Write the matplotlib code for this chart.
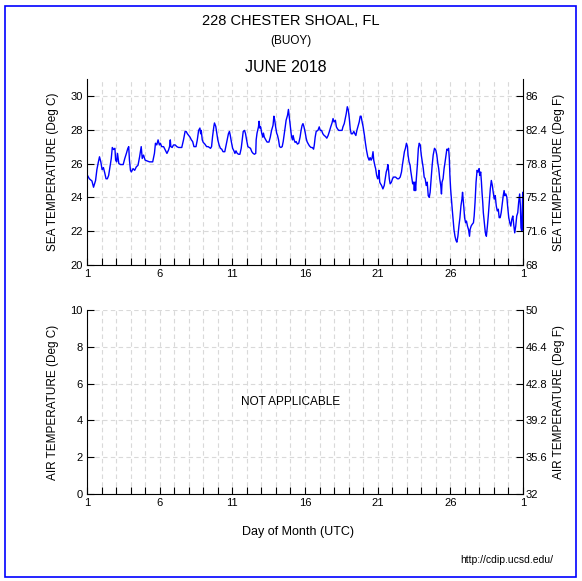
import matplotlib
matplotlib.use("Agg")
import matplotlib.pyplot as plt
from matplotlib.patches import Rectangle

plt.rcParams['font.family'] = ['Liberation Sans', 'DejaVu Sans']

# day of month (UTC, fractional) and sea temperature (deg C)
day = [
    1.00, 1.16, 1.34, 1.45, 1.59, 1.68, 1.77, 1.86, 1.95, 2.04,
    2.13, 2.22, 2.31, 2.40, 2.49, 2.58, 2.67, 2.74, 2.83, 2.92,
    2.97, 3.04, 3.10, 3.19, 3.31, 3.49, 3.60, 3.71, 3.81, 3.87,
    3.92, 3.99, 4.05, 4.17, 4.28, 4.39, 4.51, 4.62, 4.73, 4.80,
    4.89, 5.00, 5.30, 5.52, 5.64, 5.71, 5.80, 5.89, 5.98, 6.05,
    6.14, 6.27, 6.41, 6.50, 6.61, 6.68, 6.73, 6.77, 6.86, 6.95,
    7.07, 7.18, 7.30, 7.52, 7.64, 7.75, 7.82, 7.91, 8.00, 8.09,
    8.18, 8.27, 8.36, 8.50, 8.59, 8.68, 8.77, 8.82, 8.86, 8.93,
    9.00, 9.11, 9.23, 9.34, 9.50, 9.57, 9.64, 9.73, 9.77, 9.86,
    9.91, 10.00, 10.09, 10.18, 10.27, 10.36, 10.48, 10.55, 10.64, 10.73,
    10.80, 10.86, 10.93, 11.02, 11.11, 11.18, 11.25, 11.34, 11.43, 11.52,
    11.61, 11.68, 11.75, 11.84, 11.91, 11.98, 12.07, 12.16, 12.25, 12.34,
    12.43, 12.52, 12.61, 12.64, 12.70, 12.80, 12.84, 12.89, 12.95, 13.02,
    13.09, 13.14, 13.20, 13.30, 13.39, 13.52, 13.61, 13.70, 13.80, 13.86,
    13.91, 13.98, 14.05, 14.11, 14.18, 14.25, 14.34, 14.43, 14.50, 14.57,
    14.64, 14.70, 14.80, 14.86, 14.93, 15.00, 15.07, 15.14, 15.18, 15.25,
    15.32, 15.39, 15.48, 15.57, 15.66, 15.73, 15.80, 15.86, 15.93, 16.02,
    16.08, 16.14, 16.20, 16.30, 16.41, 16.50, 16.59, 16.64, 16.70, 16.77,
    16.89, 16.98, 17.05, 17.14, 17.23, 17.32, 17.41, 17.50, 17.59, 17.68,
    17.77, 17.86, 17.93, 18.00, 18.09, 18.16, 18.23, 18.32, 18.55, 18.61,
    18.70, 18.77, 18.84, 18.91, 18.98, 19.05, 19.11, 19.18, 19.27, 19.36,
    19.43, 19.50, 19.57, 19.64, 19.73, 19.80, 19.86, 19.93, 20.00, 20.09,
    20.16, 20.23, 20.32, 20.41, 20.48, 20.55, 20.61, 20.68, 20.73, 20.80,
    20.86, 20.93, 21.00, 21.05, 21.09, 21.14, 21.20, 21.27, 21.36, 21.45,
    21.52, 21.59, 21.66, 21.70, 21.75, 21.80, 21.86, 21.95, 22.02, 22.09,
    22.23, 22.36, 22.45, 22.55, 22.64, 22.70, 22.77, 22.84, 22.91, 22.98,
    23.05, 23.09, 23.16, 23.23, 23.27, 23.34, 23.41, 23.48, 23.52, 23.57,
    23.61, 23.66, 23.73, 23.80, 23.86, 23.93, 24.00, 24.07, 24.14, 24.20,
    24.27, 24.34, 24.41, 24.48, 24.55, 24.61, 24.68, 24.75, 24.82, 24.91,
    25.00, 25.07, 25.14, 25.20, 25.27, 25.34, 25.39, 25.43, 25.50, 25.57,
    25.64, 25.70, 25.76, 25.82, 25.88, 25.93, 25.97, 26.02, 26.08, 26.13,
    26.18, 26.25, 26.32, 26.39, 26.45, 26.52, 26.59, 26.66, 26.73, 26.80,
    26.84, 26.89, 26.93, 26.98, 27.05, 27.11, 27.18, 27.25, 27.32, 27.36,
    27.43, 27.50, 27.59, 27.64, 27.70, 27.77, 27.84, 27.91, 27.98, 28.02,
    28.09, 28.14, 28.18, 28.23, 28.27, 28.34, 28.41, 28.48, 28.55, 28.61,
    28.68, 28.75, 28.82, 28.89, 28.95, 29.02, 29.09, 29.16, 29.23, 29.30,
    29.36, 29.43, 29.50, 29.57, 29.64, 29.70, 29.75, 29.82, 29.89, 29.95,
    30.02, 30.09, 30.16, 30.23, 30.30, 30.36, 30.43, 30.50, 30.57, 30.64,
    30.70, 30.77, 30.82, 30.86, 30.91, 30.95, 30.98, 31.00,
]
sea_c = [
    25.35, 25.10, 24.97, 24.60, 25.00, 25.64, 26.04, 26.40, 26.10, 25.64,
    25.76, 25.45, 25.10, 25.10, 25.30, 25.80, 26.30, 26.95, 26.83, 26.90,
    26.20, 26.10, 26.60, 26.00, 25.94, 25.94, 26.30, 26.60, 26.90, 27.00,
    26.20, 25.60, 25.50, 25.70, 25.60, 25.80, 25.90, 26.40, 27.00, 26.30,
    26.50, 26.20, 26.10, 26.10, 26.60, 27.20, 27.10, 27.40, 27.10, 27.20,
    27.00, 27.00, 26.75, 26.60, 26.80, 27.00, 27.40, 27.00, 26.95, 27.10,
    27.10, 27.00, 26.95, 26.95, 27.40, 27.90, 27.90, 27.76, 27.66, 27.56,
    27.40, 27.30, 27.00, 27.00, 27.40, 27.96, 28.10, 27.76, 27.96, 27.40,
    27.25, 27.15, 27.00, 27.00, 26.90, 27.00, 27.60, 28.20, 28.40, 28.20,
    27.90, 27.40, 27.10, 26.90, 26.85, 26.70, 26.70, 27.00, 27.40, 27.76,
    27.90, 27.66, 27.30, 26.90, 26.75, 26.60, 26.75, 26.60, 26.55, 26.55,
    26.90, 27.40, 27.90, 27.96, 27.76, 27.40, 27.00, 26.95, 26.90, 26.70,
    26.60, 26.55, 26.60, 27.40, 27.80, 28.17, 28.50, 28.10, 28.17, 27.80,
    27.56, 27.80, 27.56, 27.40, 27.27, 27.27, 27.56, 27.96, 28.26, 28.80,
    28.60, 28.17, 27.80, 27.66, 27.40, 27.00, 26.95, 27.00, 27.30, 27.76,
    28.17, 28.56, 28.86, 29.20, 28.66, 28.17, 27.60, 27.40, 27.66, 27.40,
    27.25, 27.30, 27.15, 27.20, 27.56, 27.96, 28.26, 28.36, 28.17, 27.80,
    27.50, 27.30, 27.20, 27.05, 26.95, 26.95, 26.85, 27.10, 27.56, 27.90,
    27.96, 28.17, 27.96, 27.96, 27.76, 27.66, 27.60, 27.50, 27.66, 27.90,
    28.17, 28.40, 28.66, 28.46, 28.56, 28.17, 28.06, 27.96, 27.96, 28.17,
    28.36, 28.66, 28.96, 29.36, 29.17, 28.66, 28.06, 27.76, 27.76, 27.90,
    27.76, 27.66, 27.96, 28.17, 28.46, 28.80, 28.80, 28.46, 28.17, 27.66,
    27.20, 26.80, 26.40, 26.20, 26.35, 26.20, 26.30, 26.70, 26.20, 25.90,
    25.70, 25.30, 25.10, 25.20, 25.60, 24.90, 24.80, 24.70, 24.50, 24.70,
    25.10, 25.50, 25.70, 25.94, 25.60, 25.10, 24.80, 24.90, 25.10, 25.20,
    25.20, 25.10, 25.10, 25.20, 25.50, 25.90, 26.30, 26.70, 26.90, 27.20,
    27.00, 26.50, 26.10, 25.90, 25.60, 25.20, 24.80, 24.90, 24.40, 24.90,
    24.40, 25.10, 25.90, 26.90, 27.20, 27.10, 26.50, 26.10, 25.70, 25.20,
    25.10, 24.70, 24.90, 24.10, 24.00, 24.30, 25.10, 25.90, 26.50, 26.90,
    26.80, 26.50, 26.00, 25.70, 25.10, 24.70, 24.20, 24.90, 25.10, 25.70,
    26.10, 26.50, 26.85, 26.80, 26.90, 26.30, 25.30, 24.50, 23.80, 23.30,
    22.80, 22.10, 21.70, 21.45, 21.35, 21.70, 22.30, 22.80, 23.50, 23.90,
    24.30, 23.80, 23.40, 22.80, 22.50, 22.60, 22.30, 22.10, 21.70, 22.10,
    22.30, 22.40, 22.50, 22.90, 23.70, 24.90, 25.60, 25.50, 25.70, 25.30,
    25.50, 24.90, 24.30, 23.70, 23.10, 22.50, 21.90, 21.70, 22.30, 22.90,
    23.70, 24.50, 25.00, 24.70, 24.30, 23.90, 24.10, 23.50, 23.20, 23.30,
    22.80, 22.80, 23.10, 23.60, 24.10, 24.40, 24.10, 24.20, 24.00, 23.40,
    22.80, 22.50, 22.30, 22.70, 22.90, 22.40, 21.90, 22.30, 22.90, 23.10,
    23.70, 24.20, 23.50, 22.20, 22.00, 23.30, 24.30, 22.10,
]

sea_ticks_c = [20, 22, 24, 26, 28, 30]
air_ticks_c = [0, 2, 4, 6, 8, 10]
day_labels = {1: '1', 6: '6', 11: '11', 16: '16', 21: '21', 26: '26', 31: '1'}

W, H = 582, 581
fig = plt.figure(figsize=(W / 100, H / 100), dpi=100)


def box(l, t, r, b):
    return [l / W, 1 - b / H, (r - l) / W, (b - t) / H]


def c_to_f(c):
    return c * 1.8 + 32


def setup(ax, lo, hi, ticks, left_label, right_label):
    ax.set_xlim(1, 31)
    ax.set_ylim(lo, hi)
    ax.set_xticks(range(1, 32))
    ax.set_xticklabels([day_labels.get(d, '') for d in range(1, 32)])
    ax.set_yticks(ticks)
    ax.set_yticklabels([str(t) for t in ticks])
    ax.tick_params(axis='x', direction='in', length=5, width=0.8, labelsize=8, pad=3)
    ax.tick_params(axis='y', direction='in', length=5, width=0.8, labelsize=8, pad=3)
    ax.grid(True, color='#d9d9d9', linestyle=(0, (4, 3)), linewidth=0.8)
    ax.set_axisbelow(True)
    ax.spines['top'].set_visible(False)
    ax.spines['right'].set_visible(False)
    ax.set_ylabel(left_label, fontsize=8.5, labelpad=8)

    axr = ax.twinx()
    axr.set_ylim(c_to_f(lo), c_to_f(hi))
    axr.set_yticks([c_to_f(t) for t in ticks])
    axr.set_yticklabels(['%g' % round(c_to_f(t), 1) for t in ticks])
    axr.tick_params(axis='y', direction='in', length=5, width=0.8, labelsize=8, pad=2)
    for s in ['top', 'left', 'bottom']:
        axr.spines[s].set_visible(False)
    axr.set_ylabel(right_label, fontsize=8.5, labelpad=4)
    return axr


ax1 = fig.add_axes(box(87, 79, 523, 265))
setup(ax1, 20, 31, sea_ticks_c, 'SEA TEMPERATURE (Deg C)', 'SEA TEMPERATURE (Deg F)')
ax1.plot(day, sea_c, color='#0000ff', linewidth=1.0)

ax2 = fig.add_axes(box(87, 310, 523, 494))
setup(ax2, 0, 10, air_ticks_c, 'AIR TEMPERATURE (Deg C)', 'AIR TEMPERATURE (Deg F)')
ax2.text(15, 5, 'NOT APPLICABLE', ha='center', va='center', fontsize=8.5)

fig.text(291 / W, 1 - 21 / H, '228 CHESTER SHOAL, FL', ha='center', va='center', fontsize=10.5)
fig.text(291 / W, 1 - 41 / H, '(BUOY)', ha='center', va='center', fontsize=8.5)
fig.text(286 / W, 1 - 68 / H, 'JUNE 2018', ha='center', va='center', fontsize=11.5)
fig.text(298 / W, 1 - 532 / H, 'Day of Month (UTC)', ha='center', va='center', fontsize=9)
fig.text(553 / W, 1 - 560 / H, 'http://cdip.ucsd.edu/', ha='right', va='center', fontsize=7.5)

fig.patches.append(Rectangle((5 / W, 1 - 577 / H), 571 / W, 571 / H, transform=fig.transFigure,
                             fill=False, edgecolor='#0000ff', linewidth=1.2))

fig.savefig('out.png', dpi=100)
